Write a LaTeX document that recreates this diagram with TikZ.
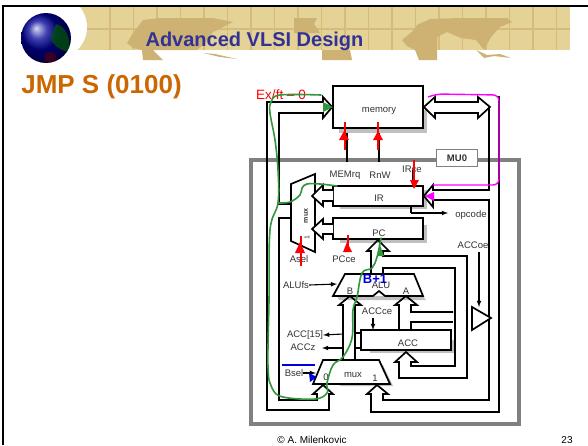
\documentclass[tikz,border=0pt]{standalone}
\usepackage{fontspec}
\setmainfont{Liberation Sans}
\tikzset{
    boxnode/.style={draw=black, fill=white, line width=1.7pt, inner sep=0pt},
    lbl/.style={inner sep=0pt, text=textgray, font=\fontsize{9.5}{11}\selectfont},
    bus/.style={draw=black, fill=white, line width=1.7pt},
    wire/.style={draw=black, line width=1.7pt},
    sig/.style={draw=black, line width=1.1pt, -latex},
    redline/.style={draw=sigred, line width=1.3pt},
    redhead/.style={fill=sigred, draw=none},
    shadowfill/.style={fill=shadowgray, draw=none},
    greenline/.style={draw=pathgreen, line width=1.6pt, line cap=round}
}
\begin{document}
\begin{tikzpicture}[x=1pt, y=-1pt]
    % Define the colors
    \definecolor{bandcolor}{RGB}{228, 210, 150}
    \definecolor{gridcolor}{RGB}{214, 188, 124}
    \definecolor{mapcolor}{RGB}{205, 178, 115}
    \definecolor{titleblue}{RGB}{50, 50, 150}
    \definecolor{titleorange}{RGB}{204, 102, 0}
    \definecolor{framegray}{RGB}{128, 128, 128}
    \definecolor{shadowgray}{RGB}{192, 192, 192}
    \definecolor{textgray}{RGB}{50, 50, 50}
    \definecolor{sigred}{RGB}{255, 0, 0}
    \definecolor{pathgreen}{RGB}{50, 150, 60}
    \definecolor{pathpink}{RGB}{255, 0, 255}
    \definecolor{pathblue}{RGB}{0, 0, 220}

    \useasboundingbox (0,0) rectangle (588,445);
    \fill[white] (0,0) rectangle (588,445);

    % Draw the header band
    \fill[bandcolor] (60,7) rectangle (570,50);
    \foreach \gx in {110,133.5,...,557} {
        \draw[gridcolor, line width=1.2pt] (\gx,7) -- (\gx,50);
    }
    \draw[gridcolor, line width=1.2pt] (80,29) -- (570,29);

    % Draw the two world maps
    \fill[mapcolor] (127,43) -- (133,33) -- (143,20) -- (160,18) -- (213,18) -- (233,22) -- (213,32) -- (203,45) -- (197,50)
        -- (153,50) -- (163,60) -- (143,60) -- (142,50) -- (133,48) -- cycle;
    \fill[mapcolor] (203,53) -- (215,54) -- (237,59) -- (220,57) -- cycle;
    \fill[mapcolor] (294,18) -- (317,18) -- (314,24) -- (320,33) -- (294,33) -- cycle;
    \fill[mapcolor] (322,50) -- (350,50) -- (352,60) -- (322,60) -- cycle;
    \fill[mapcolor] (402,40) -- (414,30) -- (417,25) -- (430,19) -- (461,18) -- (507,18) -- (512,22) -- (500,27) -- (491,37) -- (484,50)
        -- (476,40) -- (461,38) -- (447,32) -- (437,37) -- (437,50) -- (437,60) -- (419,60) -- (415,50) -- (407,46) -- cycle;
    \fill[mapcolor] (476,50) -- (487,55) -- (500,54) -- (511,58) -- (494,56) -- (484,58) -- cycle;

    % Draw the white corner and the globe
    \fill[white] (55,27) circle (32);
    \fill[white] (60,7) rectangle (80,0);
    \shade[ball color=blue!60!black] (46,38) circle (25);
    \begin{scope}
        \clip (46,38) circle (25);
        \fill[green!35!black, opacity=.7] (56,24) .. controls (66,26) and (72,40) .. (68,52) .. controls (60,50) and (50,44) .. (51,36) -- cycle;
        \fill[red!40!black, opacity=.55] (46,53) .. controls (52,50) and (58,54) .. (56,62) -- (44,62) -- cycle;
    \end{scope}

    % Draw the slide frame
    \draw[black, line width=2.5pt] (3,445) -- (3,6) -- (588,6);

    % Draw the titles
    \node[inner sep=0pt, text=titleblue, font=\fontsize{20}{24}\selectfont\bfseries] (title) at (254.5,41) {Advanced VLSI Design};
    \node[inner sep=0pt, text=titleorange, font=\fontsize{26}{30}\selectfont\bfseries] (slideName) at (101.5,86.5) {JMP S (0100)};

    % Draw the MU0 boundary
    \draw[framegray, line width=4pt] (251,160) rectangle (519,424);
    \node[draw=framegray, fill=white, line width=1.5pt, minimum width=41pt, minimum height=17pt, inner sep=0pt, font=\fontsize{9.5}{11}\selectfont\bfseries, text=textgray] (muName) at (457,158) {MU0};

    % Draw the shadows
    \fill[shadowfill] (339,110) rectangle (427,133);
    \fill[shadowfill] (340,190) rectangle (427,209);
    \fill[shadowfill] (340,225) rectangle (427,243);
    \fill[shadowfill] (337,296) -- (423,296) -- (426,300) -- (339,300) -- cycle;
    \fill[shadowfill] (370,340) rectangle (454,353);
    \fill[shadowfill] (340,365) -- (383,365) -- (393,386) -- (340,386) -- cycle;

    % Draw the boxes
    \node[boxnode, minimum width=90pt, minimum height=42pt] (memory) at (378,107) {};
    \node[boxnode, minimum width=90pt, minimum height=20pt] (irBox) at (378,196) {};
    \node[boxnode, minimum width=90pt, minimum height=21pt] (pcBox) at (378,228.5) {};
    \node[boxnode, minimum width=90pt, minimum height=20pt] (accBox) at (406,340) {};
    \node[lbl] (memoryText) at (379,111) {memory};
    \node[lbl] (irText) at (379,198) {IR};
    \node[lbl] (pcText) at (379,233) {PC};
    \node[lbl] (accText) at (408,343) {ACC};

    % Draw the memory buses
    \draw[wire] (memory.west) -- (323,118) -- (323,113) -- (279,113) -- (279,204) -- (291,204);
    \draw[wire] (291,218) -- (279,218) -- (279,400) -- (317,400) -- (317,394) -- (313,394) -- (323,385) -- (333,394) -- (329,394) -- (329,410) -- (267,410) -- (267,102) -- (323,102) -- (323,97) -- (memory.west);
    \draw[bus] (memory.east) -- (435,97) -- (435,102) -- (478,102) -- (478,97) -- (490,107) -- (478,118) -- (478,113) -- (435,113) -- (435,118) -- cycle;
    \draw[wire] (489,107) -- (489,190) -- (433,190) -- (433,185) -- (irBox.east) -- (433,207) -- (433,200) -- (489,200) -- (489,400) -- (383,400) -- (383,394) -- (388,394) -- (377,385) -- (367,394) -- (371,394) -- (371,412) -- (499,412) -- (499,96);

    % Draw the address mux
    \filldraw[fill=white, draw=black, line width=1.7pt] (291,184) -- (315,174) -- (315,252) -- (291,241) -- cycle;
    \node[lbl, rotate=90, font=\fontsize{7}{8}\selectfont\bfseries] (aselMux) at (306,216) {mux};
    \node[lbl, rotate=90, font=\fontsize{7}{8}\selectfont] (aselOne) at (307,238) {1};

    % Draw the ALU
    \filldraw[fill=white, draw=black, line width=1.7pt] (345,274) -- (414,274) -- (423,296) -- (385,296) -- (379,291) -- (373,296) -- (333,296) -- cycle;
    \node[lbl] (aluText) at (381,285) {ALU};
    \node[lbl] (aluB) at (350,291) {B};
    \node[lbl] (aluA) at (406,291) {A};

    % Draw the B mux
    \filldraw[fill=white, draw=black, line width=1.7pt] (323,360) -- (379,360) -- (390,384) -- (313,384) -- cycle;
    \node[lbl] (bmuxText) at (353,375) {mux};
    \node[lbl] (bmuxZero) at (326,377) {0};
    \node[lbl] (bmuxOne) at (375,378) {1};

    % Draw the buses into the address mux
    \draw[bus] (333,190) -- (323,190) -- (323,185) -- (312,196) -- (323,206) -- (323,201) -- (333,201);
    \draw[bus] (333,224) -- (323,224) -- (323,219) -- (312,229) -- (323,239) -- (323,234) -- (333,234);

    % Draw the ALU outputs
    \draw[wire] (371,274) -- (371,251) -- (367,251) -- (378,240) -- (389,251) -- (383,251) -- (383,256) -- (467,256) -- (467,378) -- (399,378) -- (399,362) -- (395,362) -- (406,352) -- (417,362) -- (411,362) -- (411,366) -- (455,366) -- (455,268) -- (383,268) -- (383,274);

    % Draw the ALU inputs
    \draw[wire] (343,360) -- (343,305) -- (339,305) -- (350,296) -- (361,305) -- (355,305) -- (355,360);
    \draw[wire] (399,330) -- (399,305) -- (395,305) -- (406,296) -- (417,305) -- (411,305) -- (411,312) -- (453,312);
    \draw[wire] (411,330) -- (411,322) -- (453,322);
    \draw[wire] (355,333) -- (accBox.west |- 0,333);
    \draw[wire] (355,348) -- (accBox.west |- 0,348);

    % Draw the ACC output driver
    \filldraw[fill=white, draw=black, line width=1.7pt] (472,307) -- (491,318) -- (472,330) -- cycle;

    % Draw the control labels
    \node[lbl] (memrqLabel) at (345,175) {MEMrq};
    \node[lbl] (rnwLabel) at (380,175) {RnW};
    \node[lbl] (irceLabel) at (412,169) {IRce};
    \node[lbl] (aselLabel) at (299,259) {Asel};
    \node[lbl] (pcceLabel) at (344,259) {PCce};
    \node[lbl] (opcodeLabel) at (471,215) {opcode};
    \node[lbl] (accoeLabel) at (473,245) {ACCoe};
    \node[lbl] (alufsLabel) at (296,285) {ALUfs};
    \node[lbl] (acceLabel) at (377,311) {ACCce};
    \node[lbl] (acc15Label) at (305,335) {ACC[15]};
    \node[lbl] (acczLabel) at (303,347) {ACCz};
    \node[lbl] (bselLabel) at (294,373) {Bsel};

    % Draw the control wires
    \draw[wire] (347,133) -- (347,162);
    \draw[wire] (379,133) -- (379,162);
    \draw[wire] (413,170) -- (413,186);
    \draw[wire] (348,239) -- (348,252);
    \draw[wire] (411,206) -- (411,213);
    \draw[sig] (411,213) -- (448,213);
    \draw[sig] (alufsLabel.east) -- (337,284);
    \draw[sig] (373,318) -- (373,330);
    \draw[sig] (343,334) -- (acc15Label.east);
    \draw[sig] (343,348) -- (322,348);
    \draw[sig] (bselLabel.east) -- (316,373);
    \draw[sig] (479,252) -- (479,307);

    % Draw the red control marks
    \node[lbl, text=sigred, font=\fontsize{13.5}{15}\selectfont] (exftLabel) at (281,95) {Ex/ft -- 0};
    \draw[redline] (345,122) -- (345,150);
    \fill[redhead] (344,131) -- (349,140) -- (339,140) -- cycle;
    \draw[redline] (378,122) -- (378,150);
    \fill[redhead] (378,131) -- (383,140) -- (373,140) -- cycle;
    \draw[redline] (414,160) -- (414,182);
    \fill[redhead] (414,189) -- (419,180) -- (410,180) -- cycle;
    \draw[redline] (301,236) -- (301,266);
    \fill[redhead] (300,242) -- (305,253) -- (295,253) -- cycle;
    \draw[redline] (348,235) -- (348,250);
    \fill[redhead] (347,242) -- (352,252) -- (343,252) -- cycle;

    % Draw the pink path
    \draw[pathpink, line width=1.4pt, rounded corners=6pt] (428,97) -- (437,94) -- (499,95) -- (499,185) -- (433,185);
    \fill[pathpink] (425,196) -- (434,192) -- (434,201) -- cycle;

    % Draw the green path
    \draw[greenline] plot[smooth, tension=.6] coordinates {(321,95) (280,95) (271,102) (270,113) (275,140) (278,170) (278,203) (270,230) (269,300) (268,367) (272,388) (283,397) (315,399) (327,393) (327,383) (333,365) (343,357) (352,338) (353,310) (357,297) (362,273) (372,268) (377,257) (381,238)};
    \draw[greenline] plot[smooth, tension=.6] coordinates {(278,203) (290,202) (300,195) (302,188) (307,184) (320,184) (337,186)};
    \fill[pathgreen] (323,102) -- (333,107) -- (323,112) -- cycle;
    \fill[pathgreen] (377,256) -- (384,256) -- (380,245) -- cycle;

    % Draw the blue marks
    \node[inner sep=0pt, text=pathblue, font=\fontsize{13}{15}\selectfont\bfseries] (baddLabel) at (375,279.5) {B+1};
    \draw[pathblue, line width=1.3pt] (282,365) -- (315,365);
    \fill[pathblue] (309,373) -- (317,377) -- (310,382) -- cycle;

    % Draw the footer
    \node[lbl, text=black, font=\fontsize{10}{12}\selectfont] (footerName) at (312,440) {© A. Milenkovic};
    \node[lbl, text=black, font=\fontsize{10}{12}\selectfont] (footerPage) at (567,440) {23};

\end{tikzpicture}
\end{document}
